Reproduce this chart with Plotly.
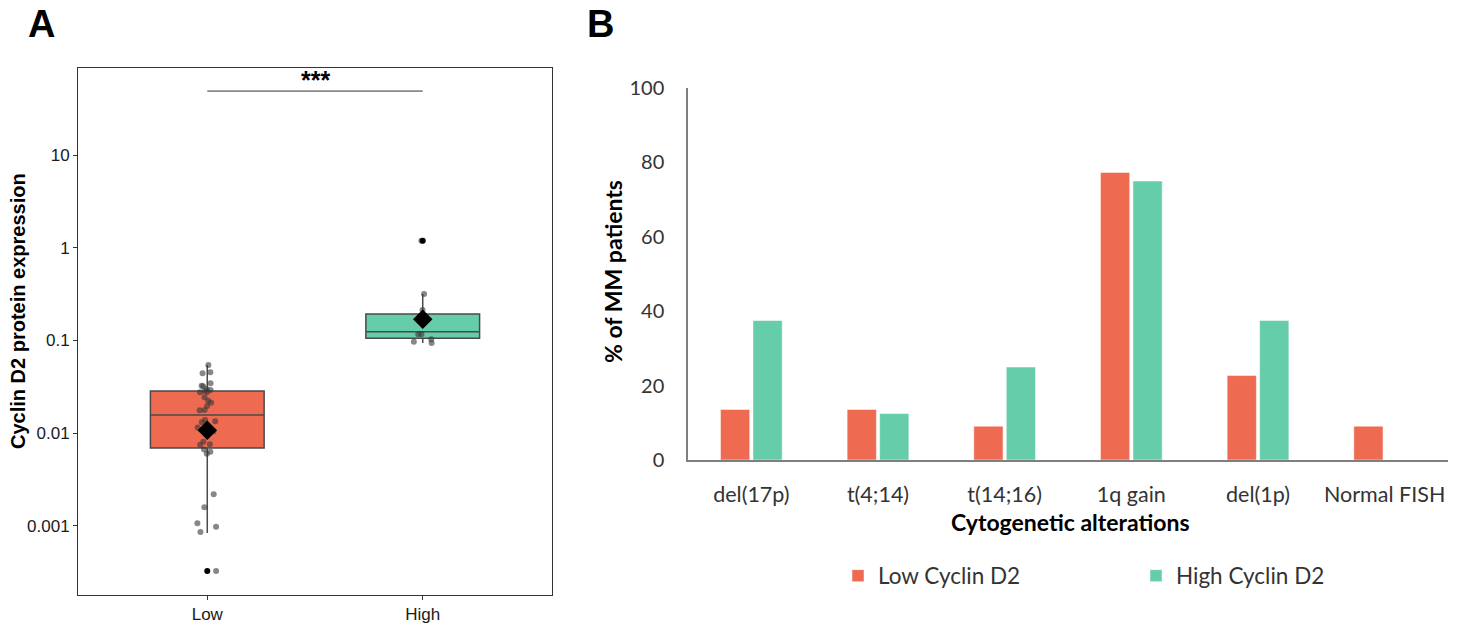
import math
import plotly.graph_objects as go

# ---------------- Panel A data ----------------
groups = ["Low", "High"]
low_points = [0.0545, 0.0443, 0.0454, 0.0326, 0.0321, 0.0346, 0.0279, 0.0300, 0.0286,
              0.0277, 0.0292, 0.0244, 0.0224, 0.0213, 0.0197, 0.0178, 0.0177, 0.0135,
              0.0139, 0.0131, 0.0115, 0.0105, 0.0081, 0.0075, 0.0076, 0.0063, 0.0067,
              0.0060, 0.0022, 0.00159, 0.00107, 0.00098, 0.00086, 0.000327]
high_points = [1.19, 0.317, 0.213, 0.160, 0.117, 0.117, 0.103, 0.097, 0.094]
box_q1 = [0.00693, 0.1057]
box_median = [0.0157, 0.1245]
box_q3 = [0.0286, 0.193]
box_lower = [0.00084, 0.094]
box_upper = [0.0545, 0.317]
group_mean = [0.0108, 0.169]
outlier_groups = ["Low", "High"]
outlier_values = [0.000327, 1.19]
sig_level = 48.9
sig_label = "***"
a_tickvals = [0.001, 0.01, 0.1, 1, 10]
a_ticktext = ["0.001", "0.01", "0.1", "1", "10"]

# ---------------- Panel B data ----------------
categories = ["del(17p)", "t(4;14)", "t(14;16)", "1q gain", "del(1p)", "Normal FISH"]
low_pct = [13.6, 13.6, 9.1, 77.3, 22.7, 9.1]
high_pct = [37.5, 12.5, 25.0, 75.0, 37.5, 0.0]
b_tickvals = [0, 20, 40, 60, 80, 100]

LOW_C = "#EE6A50"
HIGH_C = "#66CDAA"
ARIAL = "Liberation Sans, Arial, sans-serif"
CAL = "Lato, Open Sans, sans-serif"
W, H = 1463, 629

fig = go.Figure()

box_colors = [LOW_C, HIGH_C]
pts = [low_points, high_points]
for i, g in enumerate(groups):
    fig.add_trace(go.Box(
        x=[g], q1=[box_q1[i]], median=[box_median[i]], q3=[box_q3[i]],
        lowerfence=[box_lower[i]], upperfence=[box_upper[i]],
        fillcolor=box_colors[i], line=dict(color="#4a4a4a", width=1.5),
        whiskerwidth=0, boxpoints=False, showlegend=False,
        xaxis="x", yaxis="y"))
for i, g in enumerate(groups):
    fig.add_trace(go.Box(
        x=[g] * len(pts[i]), y=pts[i], boxpoints="all", jitter=0.3, pointpos=0,
        fillcolor="rgba(0,0,0,0)", line=dict(color="rgba(0,0,0,0)", width=0),
        marker=dict(color="rgba(55,55,55,0.6)", size=6),
        showlegend=False, xaxis="x", yaxis="y"))

fig.add_trace(go.Scatter(x=outlier_groups, y=outlier_values, mode="markers",
                         marker=dict(color="black", size=6), showlegend=False,
                         xaxis="x", yaxis="y"))
fig.add_trace(go.Scatter(x=groups, y=group_mean, mode="markers",
                         marker=dict(color="black", size=15, symbol="diamond"),
                         showlegend=False, xaxis="x", yaxis="y"))

# Panel B bars
fig.add_trace(go.Bar(x=categories, y=low_pct, name="Low Cyclin D2",
                     marker=dict(color=LOW_C, line=dict(color="rgba(255,255,255,0.5)", width=1)),
                     xaxis="x2", yaxis="y2"))
fig.add_trace(go.Bar(x=categories, y=high_pct, name="High Cyclin D2",
                     marker=dict(color=HIGH_C, line=dict(color="rgba(255,255,255,0.5)", width=1)),
                     xaxis="x2", yaxis="y2"))

# significance bracket (shapes on log axes take data values)
fig.add_shape(type="line", xref="x", yref="y", x0=0, x1=1, y0=sig_level, y1=sig_level,
              line=dict(color="#333333", width=1))


def ann(text, x, y, size, family, angle=0, **kw):
    return dict(text=text, x=x / W, y=1 - y / H, xref="paper", yref="paper",
                xanchor="center", yanchor="middle", textangle=angle, showarrow=False,
                font=dict(family=family, size=size, color="black"), **kw)


annotations = [
    ann("<b>A</b>", 41, 24, 38, ARIAL),
    ann("<b>B</b>", 600, 24, 38, ARIAL),
    ann("<b>Cyclin D2 protein expression</b>", 18, 311, 20, ARIAL, -90),
    ann("<b>% of MM patients</b>", 613, 272, 23, CAL, -90),
    ann("<b>Cytogenetic alterations</b>", 1070, 522, 23, CAL),
    dict(text="<b>" + sig_label + "</b>", x=0.5, y=math.log10(sig_level), xref="x", yref="y",
         xanchor="center", yanchor="middle", yshift=11, showarrow=False,
         font=dict(family=ARIAL, size=25, color="black")),
]

fig.update_layout(
    width=W, height=H, margin=dict(l=0, r=0, t=0, b=0, autoexpand=False),
    paper_bgcolor="white", plot_bgcolor="white",
    boxmode="overlay", boxgap=0.246,
    barmode="group", bargap=0.487, bargroupgap=0.1,
    xaxis=dict(domain=[78 / W, 552 / W], anchor="y", type="category",
               categoryorder="array", categoryarray=groups, range=[-0.6, 1.6],
               showline=True, mirror=True, linecolor="#333333", linewidth=1,
               ticks="outside", ticklen=4, tickcolor="#333333",
               tickfont=dict(family=ARIAL, size=17, color="#1a1a1a"),
               showgrid=False, zeroline=False),
    yaxis=dict(domain=[1 - 595 / H, 1 - 68 / H], anchor="x", type="log",
               range=[-3.744, 1.938], tickvals=a_tickvals, ticktext=a_ticktext,
               showline=True, mirror=True, linecolor="#333333", linewidth=1,
               ticks="outside", ticklen=4, tickcolor="#333333",
               tickfont=dict(family=ARIAL, size=17, color="#1a1a1a"),
               showgrid=False, zeroline=False),
    xaxis2=dict(domain=[688 / W, 1448 / W], anchor="y2", type="category",
                range=[-0.5, 5.5], showline=True, linecolor="#7f7f7f", linewidth=1.5,
                ticks="", ticklabelstandoff=14,
                tickfont=dict(family=CAL, size=21.5, color="#333333"),
                showgrid=False, zeroline=False),
    yaxis2=dict(domain=[1 - 460 / H, 1 - 88 / H], anchor="x2", range=[0, 100],
                tickvals=b_tickvals, showline=True, linecolor="#7f7f7f", linewidth=1.5,
                ticks="", ticklabelstandoff=18,
                tickfont=dict(family=CAL, size=20, color="#333333"),
                showgrid=False, zeroline=False),
    legend=dict(orientation="h", x=838 / W, y=1 - 576 / H, xanchor="left",
                yanchor="middle", font=dict(family=CAL, size=22.5, color="#333333"),
                entrywidth=253, entrywidthmode="pixels", bgcolor="rgba(0,0,0,0)"),
    annotations=annotations,
)

fig.write_html("out.html", config={"displayModeBar": False},
               post_script="document.body.style.margin='0';document.body.style.padding='0';")
